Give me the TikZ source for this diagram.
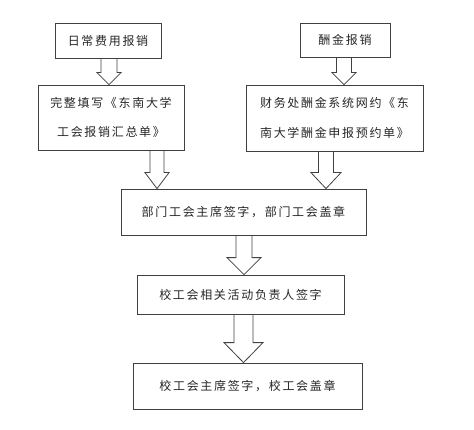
\documentclass[tikz,border=0pt]{standalone}
\usepackage{fontspec}
\usepackage{tikz}
\usetikzlibrary{calc}
\newfontfamily\cjk[LetterSpace=14]{Noto Sans CJK SC}

% hollow block arrow: x, from, to, shaft half width, head half width, head length
\newcommand{\fatarrow}[6]{%
  \draw[fat] let \p1=(#2.south), \p2=(#3.north) in
    ({#1pt-#4pt},\y1) -- ({#1pt-#4pt},{\y2+#6pt}) -- ({#1pt-#5pt},{\y2+#6pt})
    -- (#1pt,\y2) -- ({#1pt+#5pt},{\y2+#6pt}) -- ({#1pt+#4pt},{\y2+#6pt})
    -- ({#1pt+#4pt},\y1);
}

\begin{document}
\begin{tikzpicture}[x=1pt,y=1pt]
  \tikzstyle{block}=[draw=black!75,line width=0.8pt,inner sep=0pt,align=center,
    text=black!85,font=\cjk\fontsize{12}{29.5}\selectfont]
  \tikzstyle{fat}=[draw=black!75,line width=0.8pt,line join=miter]
  \useasboundingbox (0,0) rectangle (474,429);
  \node[block,minimum width=106,minimum height=35] (B1) at (108,388.5) {日常费用报销};
  \node[block,minimum width=90,minimum height=34]  (B2) at (345,389)   {酬金报销};
  \node[block,minimum width=146,minimum height=65] (B3) at (111,311.5) {完整填写《东南大学\\工会报销汇总单》};
  \node[block,minimum width=177,minimum height=66] (B4) at (334.5,311) {财务处酬金系统网约《东\\南大学酬金申报预约单》};
  \node[block,minimum width=245,minimum height=46] (B5) at (243.5,217) {部门工会主席签字，部门工会盖章};
  \node[block,minimum width=207,minimum height=39] (B6) at (240.5,134.5) {校工会相关活动负责人签字};
  \node[block,minimum width=229,minimum height=46] (B7) at (247.5,43)  {校工会主席签字，校工会盖章};
  \fatarrow{109}{B1}{B3}{8}{12}{12}
  \fatarrow{344}{B2}{B4}{7.5}{12}{12}
  \fatarrow{157}{B3}{B5}{7}{12}{16}
  \fatarrow{326}{B4}{B5}{7.5}{15}{16}
  \fatarrow{244}{B5}{B6}{8}{17}{17}
  \fatarrow{243.5}{B6}{B7}{9.5}{19.5}{20}
\end{tikzpicture}
\end{document}
